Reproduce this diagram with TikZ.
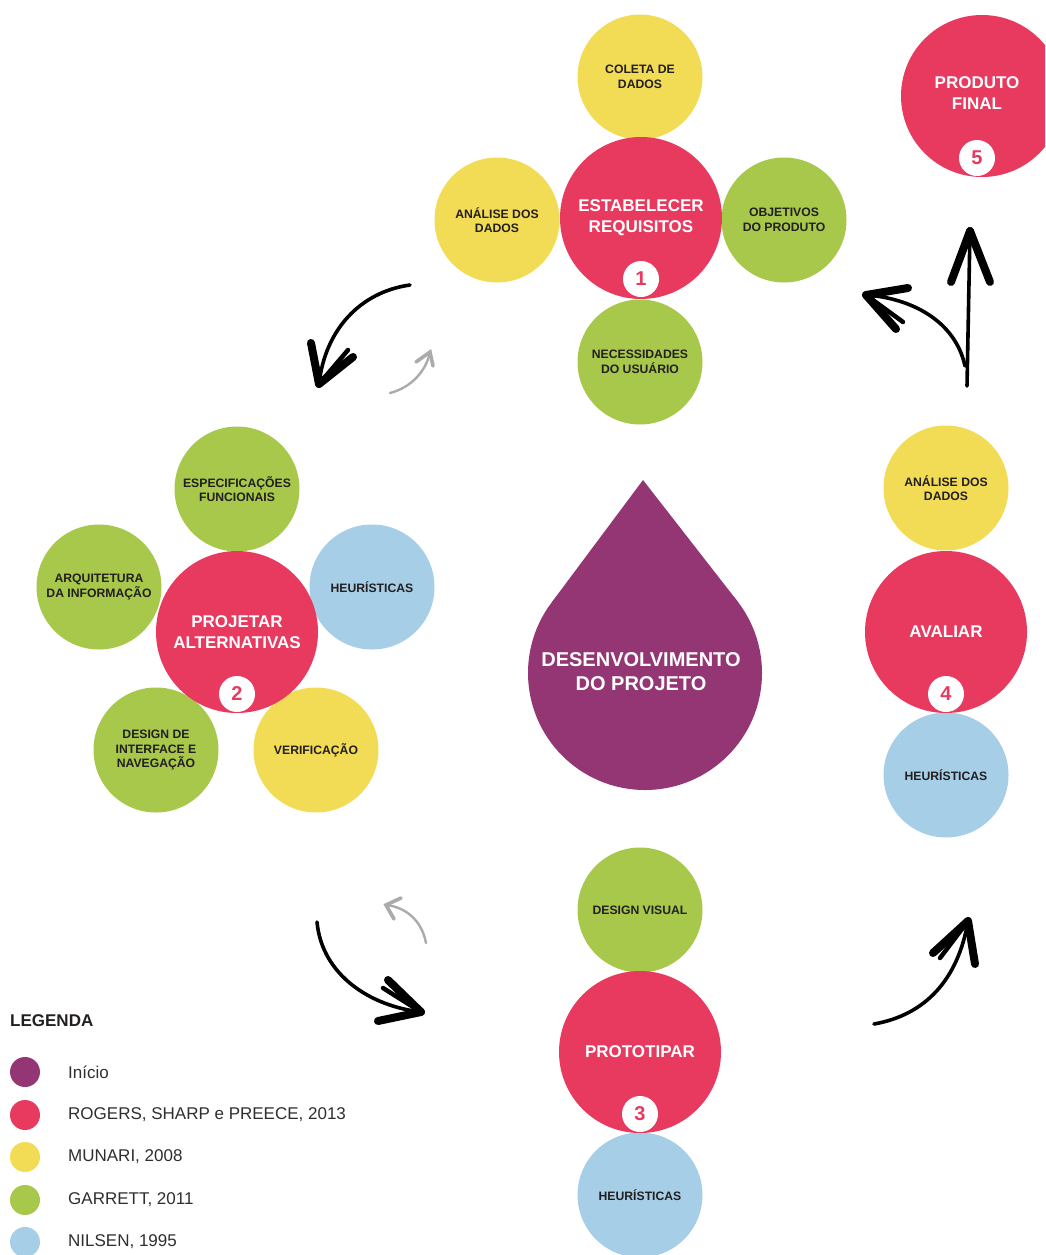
\documentclass[tikz,border=0pt]{standalone}
\usepackage{fontspec}
\setmainfont{Liberation Sans}
\definecolor{cred}{HTML}{E8395E}
\definecolor{cyel}{HTML}{F3DC55}
\definecolor{cgrn}{HTML}{A8C84B}
\definecolor{cblu}{HTML}{A6CEE6}
\definecolor{cpur}{HTML}{943674}
\definecolor{tdark}{HTML}{231F20}
\definecolor{tleg}{HTML}{2E2E2E}
\definecolor{cgray}{HTML}{ABABAB}
\begin{document}
\begin{tikzpicture}[x=1pt,y=-1pt,
  sat/.style={circle, inner sep=0pt, minimum size=125pt, align=center, text=tdark,
    font=\bfseries\fontsize{12.2}{14.5}\selectfont},
  mainc/.style={circle, inner sep=0pt, minimum size=162pt, fill=cred, text=white, align=center,
    font=\bfseries\fontsize{17}{21}\selectfont},
  badge/.style={circle, fill=white, inner sep=0pt, minimum size=36pt, text=cred,
    font=\bfseries\fontsize{20}{20}\selectfont},
  legdot/.style={circle, inner sep=0pt, minimum size=30pt},
  legtxt/.style={anchor=west, inner sep=0pt, text=tleg, font=\fontsize{17}{17}\selectfont},
  pen/.style={line width=3.6pt, line cap=round, black},
  headst/.style={line width=8pt, line cap=round, black},
  headthin/.style={line width=4.5pt, line cap=round, black},
  gpen/.style={line width=2.4pt, line cap=round, cgray},
  ghead/.style={line width=3.6pt, line cap=round, cgray}
]
\useasboundingbox (0,0) rectangle (1045,1255);
\clip (0,0) rectangle (1045,1255);

% ---------- central drop ----------
\fill[cpur] (645,673) circle[radius=117pt];
\fill[cpur] (643,480) -- (552,602) -- (645,673) -- (738,602) -- cycle;
\node[text=white, align=center, font=\bfseries\fontsize{20}{24}\selectfont] (dev) at (641,672)
  {DESENVOLVIMENTO\\DO PROJETO};

% ---------- 1 Estabelecer requisitos ----------
\node[sat, fill=cyel] (coleta) at (640,77) {COLETA DE\\DADOS};
\node[sat, fill=cyel] (anal1) at (497,220) {ANÁLISE DOS\\DADOS};
\node[sat, fill=cgrn] (obj) at (784,220) {OBJETIVOS\\DO PRODUTO};
\node[sat, fill=cgrn] (nec) at (640,362) {NECESSIDADES\\DO USUÁRIO};
\node[mainc] (req) at (641,218) {ESTABELECER\\REQUISITOS};
\node[badge] (b1) at (641,279) {1};

% ---------- 2 Projetar alternativas ----------
\node[sat, fill=cgrn] (espec) at (237,489) {ESPECIFICAÇÕES\\FUNCIONAIS};
\node[sat, fill=cgrn] (arq) at (99,587) {ARQUITETURA\\DA INFORMAÇÃO};
\node[sat, fill=cblu] (heu2) at (372,587) {HEURÍSTICAS};
\node[sat, fill=cgrn] (desint) at (156,750) {DESIGN DE\\INTERFACE E\\NAVEGAÇÃO};
\node[sat, fill=cyel] (verif) at (316,750) {VERIFICAÇÃO};
\node[mainc] (proj) at (237,632) {PROJETAR\\ALTERNATIVAS};
\node[badge] (b2) at (237,694) {2};

% ---------- 3 Prototipar ----------
\node[sat, fill=cgrn] (dvis) at (640,910) {DESIGN VISUAL};
\node[sat, fill=cblu] (heu3) at (640,1195) {HEURÍSTICAS};
\node[mainc] (prot) at (640,1052) {PROTOTIPAR};
\node[badge] (b3) at (640,1114) {3};

% ---------- 4 Avaliar ----------
\node[sat, fill=cyel] (anal4) at (946,488) {ANÁLISE DOS\\DADOS};
\node[sat, fill=cblu] (heu4) at (946,775) {HEURÍSTICAS};
\node[mainc] (aval) at (946,632) {AVALIAR};
\node[badge] (b4) at (946,694) {4};

% ---------- 5 Produto final ----------
\node[mainc] (pf) at (982,96) {};
\node[text=white, align=center, font=\bfseries\fontsize{17}{21}\selectfont] (pft) at (977,93) {PRODUTO\\FINAL};
\node[badge] (b5) at (977,158) {5};

% ---------- arrows ----------
% 1 -> 2
\coordinate (a1s) at (410,285);
\coordinate (a1e) at (319,384);
\draw[pen] (a1s) .. controls (360,292) and (325,330) .. (a1e);
\coordinate (a1l) at (311,343);
\coordinate (a1r) at (353,357);
\coordinate (a1r2) at (348,350);
\draw[headst] (a1l) -- (a1e);
\draw[headst] (a1r) -- (a1e);
\draw[headthin] (a1r2) -- (a1e);
% gray back 2 -> 1
\coordinate (g1s) at (390,393);
\coordinate (g1e) at (430,352);
\draw[gpen] (g1s) .. controls (410,388) and (426,372) .. (g1e);
\coordinate (g1l) at (416,362);
\coordinate (g1r) at (433,366);
\draw[ghead] (g1l) -- (g1e) -- (g1r);

% 2 -> 3
\coordinate (a2s) at (317,922);
\coordinate (a2e) at (421,1012);
\draw[pen] (a2s) .. controls (322,975) and (370,1006) .. (a2e);
\coordinate (a2u) at (388,980);
\coordinate (a2u2) at (383,988);
\coordinate (a2d) at (378,1021);
\draw[headst] (a2u) -- (a2e);
\draw[headthin] (a2u2) -- (a2e);
\draw[headst] (a2d) -- (a2e);
% gray back 3 -> 2
\coordinate (g2s) at (426,943);
\coordinate (g2e) at (386,905);
\draw[gpen] (g2s) .. controls (422,921) and (406,907) .. (g2e);
\coordinate (g2u) at (401,898);
\coordinate (g2d) at (394,919);
\draw[ghead] (g2u) -- (g2e) -- (g2d);

% 3 -> 4
\coordinate (a3s) at (874,1024);
\coordinate (a3e) at (968,921);
\draw[pen] (a3s) .. controls (925,1015) and (958,980) .. (a3e);
\coordinate (a3l) at (933,953);
\coordinate (a3l2) at (940,958);
\coordinate (a3r) at (975,964);
\draw[headst] (a3l) -- (a3e);
\draw[headthin] (a3l2) -- (a3e);
\draw[headst] (a3r) -- (a3e);

% 4 -> 5
\coordinate (a4s) at (967,386);
\coordinate (a4e) at (970,231);
\draw[pen] (a4s) -- (a4e);
\coordinate (a4l) at (951,282);
\coordinate (a4r) at (990,282);
\draw[headst] (a4l) -- (a4e);
\draw[headst] (a4r) -- (a4e);

% 4 -> 1
\coordinate (a5s) at (965,366);
\coordinate (a5e) at (866,295);
\draw[pen] (a5s) .. controls (955,320) and (910,298) .. (a5e);
\coordinate (a5u) at (908,288);
\coordinate (a5d) at (896,329);
\coordinate (a5d2) at (903,322);
\draw[headst] (a5u) -- (a5e);
\draw[headst] (a5d) -- (a5e);
\draw[headthin] (a5d2) -- (a5e);

% ---------- legend ----------
\node[anchor=west, inner sep=0pt, text=tdark, font=\bfseries\fontsize{17}{17}\selectfont] (leg) at (10,1021) {LEGENDA};
\node[legdot, fill=cpur] (l1) at (25,1072) {};
\node[legdot, fill=cred] (l2) at (25,1115) {};
\node[legdot, fill=cyel] (l3) at (25,1157) {};
\node[legdot, fill=cgrn] (l4) at (25,1200) {};
\node[legdot, fill=cblu] (l5) at (25,1242) {};
\node[legtxt] (t1) at (68,1072) {Início};
\node[legtxt] (t2) at (68,1115) {ROGERS, SHARP e PREECE, 2013};
\node[legtxt] (t3) at (68,1157) {MUNARI, 2008};
\node[legtxt] (t4) at (68,1200) {GARRETT, 2011};
\node[legtxt] (t5) at (68,1242) {NILSEN, 1995};
\end{tikzpicture}
\end{document}
